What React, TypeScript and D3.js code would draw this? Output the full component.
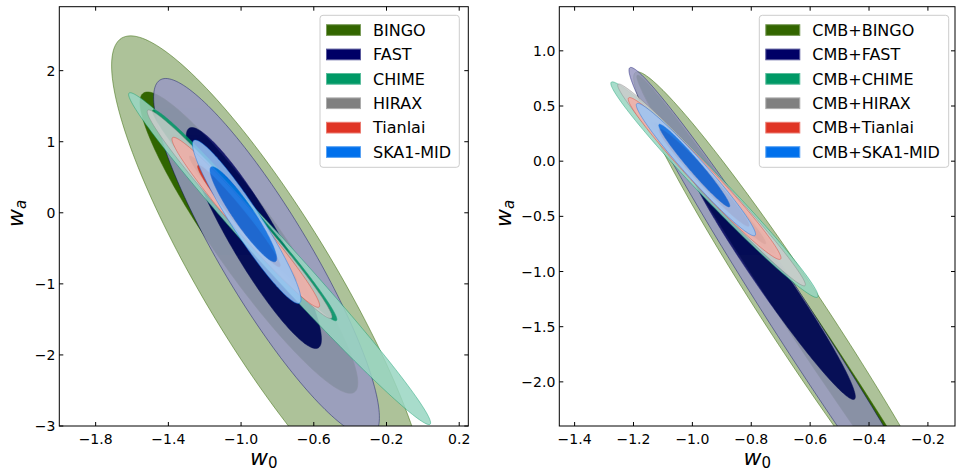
import React from "react";
import * as d3 from "d3";

// ---------------- data ----------------
const experiments = ["BINGO", "FAST", "CHIME", "HIRAX", "Tianlai", "SKA1-MID"];
const rightLabels = experiments.map((e) => "CMB+" + e);
const colors = ["#336600", "#000066", "#009966", "#808080", "#e03424", "#0070ec"];

const leftTicksX = [-1.8, -1.4, -1.0, -0.6, -0.2, 0.2];
const leftTicksY = [-3, -2, -1, 0, 1, 2];
const rightTicksX = [-1.4, -1.2, -1.0, -0.8, -0.6, -0.4, -0.2];
const rightTicksY = [-2.0, -1.5, -1.0, -0.5, 0.0, 0.5, 1.0];
const leftDomainX = [-2.0, 0.25];
const leftDomainY = [-3, 2.9];
const rightDomainX = [-1.452, -0.108];
const rightDomainY = [-2.4, 1.4];

// Left panel, 95% contours: centre (w0, wa), half-extent in wa, tilt dw0/dwa, half-width in w0
const left95W0 = [-0.84, -0.86, -0.788, -1.008, -0.974, -0.969];
const left95Wa = [-1.0, -0.63, -0.645, -0.02, -0.134, -0.126];
const left95SpanWa = [3.49, 2.52, 2.335, 1.467, 1.196, 1.15];
const left95Tilt = [-0.22, -0.22, -0.352, -0.341, -0.332, -0.246];
const left95Width = [0.414, 0.28, 0.12, 0.09, 0.085, 0.095];
// Left panel, 68% contours
const left68W0 = [-0.957, -0.93, -0.98, -0.99, -1.012, -0.9875];
const left68Wa = [-0.42, -0.355, -0.035, -0.08, -0.045, -0.021];
const left68SpanWa = [2.12, 1.555, 1.485, 0.88, 0.715, 0.669];
const left68Tilt = [-0.263, -0.219, -0.337, -0.33, -0.31, -0.255];
const left68Width = [0.22, 0.15, 0.082, 0.05, 0.05, 0.068];

// Right panel, 95% contours
const right95W0 = [-0.625, -0.645, -0.925, -0.935, -0.9585, -0.988];
const right95Wa = [-1.5, -1.5, -0.258, -0.215, -0.157, -0.076];
const right95SpanWa = [2.31, 2.35, 0.977, 0.915, 0.7335, 0.6];
const right95Tilt = [-0.243, -0.24, -0.355, -0.344, -0.347, -0.329];
const right95Width = [0.122, 0.085, 0.06, 0.05, 0.05, 0.045];
// Right panel, 68% contours
const right68W0 = [-0.62, -0.735, -0.93, -0.94, -0.96, -0.9935];
const right68Wa = [-1.5, -1.055, -0.24, -0.2, -0.15, -0.04];
const right68SpanWa = [2.28, 1.105, 0.6, 0.55, 0.44, 0.3745];
const right68Tilt = [-0.248, -0.255, -0.35, -0.34, -0.34, -0.314];
const right68Width = [0.062, 0.062, 0.036, 0.03, 0.032, 0.027];

// ---------------- drawing ----------------
const FONT = "DejaVu Sans, Liberation Sans, sans-serif";

type Contour = { cx: number[]; cy: number[]; hy: number[]; s: number[]; w: number[] };

function contourPath(
  xs: d3.ScaleLinear<number, number>,
  ys: d3.ScaleLinear<number, number>,
  cx: number,
  cy: number,
  hy: number,
  s: number,
  w: number
) {
  const pts = d3.range(0, 181).map((i) => {
    const t = (i / 180) * 2 * Math.PI;
    return [cx + s * hy * Math.sin(t) + w * Math.cos(t), cy + hy * Math.sin(t)] as [number, number];
  });
  const line = d3
    .line<[number, number]>()
    .x((d) => xs(d[0]))
    .y((d) => ys(d[1]));
  return line(pts) + "Z";
}

type PanelProps = {
  id: string;
  x0: number;
  x1: number;
  y0: number;
  y1: number;
  domX: number[];
  domY: number[];
  ticksX: number[];
  ticksY: number[];
  fmtX: (v: number) => string;
  fmtY: (v: number) => string;
  outer: Contour;
  inner: Contour;
  labels: string[];
  legendX: number;
  legendW: number;
  ylabelX: number;
};

function Panel(p: PanelProps) {
  const xs = d3.scaleLinear().domain(p.domX).range([p.x0, p.x1]);
  const ys = d3.scaleLinear().domain(p.domY).range([p.y1, p.y0]);
  const tickLen = 4;
  const legendY = 15.3;
  const rowStep = 24.4;
  const row0 = 30;
  return (
    <g>
      <defs>
        <clipPath id={p.id}>
          <rect x={p.x0} y={p.y0} width={p.x1 - p.x0} height={p.y1 - p.y0} />
        </clipPath>
      </defs>
      <g clipPath={`url(#${p.id})`}>
        {experiments.map((e, i) => {
          const pale = d3.interpolateRgb(colors[i], "#ffffff")(0.6);
          return (
            <g key={e} opacity={i === 0 ? 1 : 0.85}>
              <path
                d={contourPath(xs, ys, p.outer.cx[i], p.outer.cy[i], p.outer.hy[i], p.outer.s[i], p.outer.w[i])}
                fill={pale}
                stroke={colors[i]}
                strokeOpacity={0.55}
                strokeWidth={0.9}
              />
              <path
                d={contourPath(xs, ys, p.inner.cx[i], p.inner.cy[i], p.inner.hy[i], p.inner.s[i], p.inner.w[i])}
                fill={colors[i]}
                stroke={colors[i]}
                strokeOpacity={0.55}
                strokeWidth={0.9}
              />
            </g>
          );
        })}
      </g>
      {/* frame */}
      <rect x={p.x0} y={p.y0} width={p.x1 - p.x0} height={p.y1 - p.y0} fill="none" stroke="#000" strokeWidth={1} />
      {/* ticks */}
      {p.ticksX.map((t) => (
        <g key={"x" + t}>
          <line x1={xs(t)} x2={xs(t)} y1={p.y1} y2={p.y1 - tickLen} stroke="#000" strokeWidth={1} />
          <line x1={xs(t)} x2={xs(t)} y1={p.y0} y2={p.y0 + tickLen} stroke="#000" strokeWidth={1} />
          <text x={xs(t)} y={p.y1 + 17.5} textAnchor="middle" fontFamily={FONT} fontSize={14}>
            {p.fmtX(t)}
          </text>
        </g>
      ))}
      {p.ticksY.map((t) => (
        <g key={"y" + t}>
          <line x1={p.x0} x2={p.x0 + tickLen} y1={ys(t)} y2={ys(t)} stroke="#000" strokeWidth={1} />
          <line x1={p.x1} x2={p.x1 - tickLen} y1={ys(t)} y2={ys(t)} stroke="#000" strokeWidth={1} />
          <text x={p.x0 - 4} y={ys(t) + 5} textAnchor="end" fontFamily={FONT} fontSize={14}>
            {p.fmtY(t)}
          </text>
        </g>
      ))}
      {/* axis labels */}
      <text x={(p.x0 + p.x1) / 2} y={465} textAnchor="middle" fontFamily={FONT} fontSize={22} fontStyle="italic">
        w
        <tspan fontSize={15} fontStyle="normal" dy={3}>
          0
        </tspan>
      </text>
      <text
        transform={`translate(${p.ylabelX},${(p.y0 + p.y1) / 2 - 3}) rotate(-90)`}
        textAnchor="middle"
        fontFamily={FONT}
        fontSize={22}
        fontStyle="italic"
      >
        w
        <tspan fontSize={15} dy={3}>
          a
        </tspan>
      </text>
      {/* legend */}
      <rect
        x={p.legendX}
        y={legendY}
        width={p.legendW}
        height={152}
        rx={3}
        fill="#fff"
        fillOpacity={0.8}
        stroke="#cccccc"
        strokeWidth={1}
      />
      {p.labels.map((lab, i) => {
        const cy = row0 + i * rowStep;
        const pale = d3.interpolateRgb(colors[i], "#ffffff")(0.35);
        return (
          <g key={lab}>
            <rect x={p.legendX + 6.5} y={cy - 5.3} width={34} height={10.7} fill={colors[i]} stroke={pale} strokeWidth={1} />
            <text x={p.legendX + 53} y={cy + 5.8} fontFamily={FONT} fontSize={16}>
              {lab}
            </text>
          </g>
        );
      })}
    </g>
  );
}

export default function App() {
  const f1 = d3.format(".1f");
  const f0 = d3.format("d");
  return (
    <svg
      width={956}
      height={472}
      viewBox="0 0 956 472"
      style={{ position: "absolute", left: 0, top: 0, background: "#fff" }}
    >
      <rect x={0} y={0} width={956} height={472} fill="#fff" />
      <Panel
        id="clipL"
        x0={59.3}
        x1={468.3}
        y0={6.7}
        y1={426}
        domX={leftDomainX}
        domY={leftDomainY}
        ticksX={leftTicksX}
        ticksY={leftTicksY}
        fmtX={f1}
        fmtY={f0}
        outer={{ cx: left95W0, cy: left95Wa, hy: left95SpanWa, s: left95Tilt, w: left95Width }}
        inner={{ cx: left68W0, cy: left68Wa, hy: left68SpanWa, s: left68Tilt, w: left68Width }}
        labels={experiments}
        legendX={320}
        legendW={139.3}
        ylabelX={23}
      />
      <Panel
        id="clipR"
        x0={559.3}
        x1={955}
        y0={6.7}
        y1={426}
        domX={rightDomainX}
        domY={rightDomainY}
        ticksX={rightTicksX}
        ticksY={rightTicksY}
        fmtX={f1}
        fmtY={f1}
        outer={{ cx: right95W0, cy: right95Wa, hy: right95SpanWa, s: right95Tilt, w: right95Width }}
        inner={{ cx: right68W0, cy: right68Wa, hy: right68SpanWa, s: right68Tilt, w: right68Width }}
        labels={rightLabels}
        legendX={759.3}
        legendW={189.4}
        ylabelX={511}
      />
    </svg>
  );
}
